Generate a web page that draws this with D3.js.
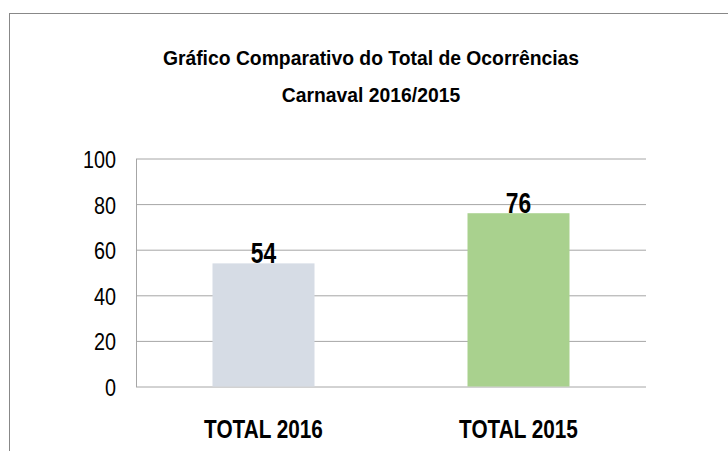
<!DOCTYPE html>
<html>
<head>
<meta charset="utf-8">
<title>Gráfico Comparativo do Total de Ocorrências</title>
<script src="https://cdn.jsdelivr.net/npm/d3@7"></script>
<style>
    body { margin: 0; background: #fff; }
    svg { display: block; font-family: "Liberation Sans", Arial, sans-serif; }
</style>
</head>
<body>
<svg id="chart" width="728" height="451"></svg>
<script>
'use strict';

/*
    bar chart: total de ocorrencias, carnaval 2016 x 2015
*/

var categories = ['TOTAL 2016', 'TOTAL 2015'];
var totals = [54, 76];
var barColors = ['#d6dce5', '#a9d18e'];
var yTicks = [0, 20, 40, 60, 80, 100];
var titleLines = ['Gráfico Comparativo do Total de Ocorrências', 'Carnaval 2016/2015'];

var svg = d3.select('#chart');

var plot = { left: 136, right: 646, top: 158.5, bottom: 386.5 };

// no narrow font installed, so squeeze the glyphs horizontally
var condense = function(sel, factor) {
    sel.each(function() {
        var w = this.getComputedTextLength();
        d3.select(this)
            .attr('textLength', w * factor)
            .attr('lengthAdjust', 'spacingAndGlyphs');
    });
};

// outer frame (right and bottom edges fall outside the picture)
svg.append('rect')
    .attr('x', 9.5)
    .attr('y', 13.5)
    .attr('width', 760)
    .attr('height', 480)
    .attr('fill', 'none')
    .attr('stroke', '#888888')
    .attr('stroke-width', 1);

// title
svg.selectAll('.title')
    .data(titleLines)
    .enter().append('text')
    .attr('class', 'title')
    .attr('x', 371)
    .attr('y', function(d, i) { return 65 + i * 36.5; })
    .attr('text-anchor', 'middle')
    .attr('font-size', '21px')
    .attr('font-weight', 'bold')
    .attr('fill', '#000')
    .text(function(d) { return d; })
    .call(condense, 0.92);

var x = d3.scaleBand()
    .domain(categories)
    .range([plot.left, plot.right])
    .paddingInner(0.6)
    .paddingOuter(0.3);

var y = d3.scaleLinear()
    .domain([0, 100])
    .range([plot.bottom, plot.top]);

/* Y axis + gridlines */
var yAxis = svg.append('g')
    .attr('transform', 'translate(' + plot.left + ',0)')
    .call(d3.axisLeft(y)
        .tickValues(yTicks)
        .tickSize(-(plot.right - plot.left))
        .tickSizeOuter(0)
        .tickPadding(20));

yAxis.selectAll('line').attr('stroke', '#a6a6a6');
yAxis.select('.domain').attr('stroke', '#a6a6a6');
yAxis.selectAll('text')
    .attr('font-size', '23px')
    .attr('font-family', '"Liberation Sans", Arial, sans-serif')
    .attr('fill', '#000')
    .attr('dy', '0.39em')
    .call(condense, 0.86);

/* bars */
svg.selectAll('.bar')
    .data(totals)
    .enter().append('rect')
    .attr('class', 'bar')
    .attr('x', function(d, i) { return x(categories[i]); })
    .attr('y', function(d) { return y(d); })
    .attr('width', x.bandwidth())
    .attr('height', function(d) { return y(0) - y(d); })
    .attr('fill', function(d, i) { return barColors[i]; });

/* value labels */
svg.selectAll('.value')
    .data(totals)
    .enter().append('text')
    .attr('class', 'value')
    .attr('x', function(d, i) { return x(categories[i]) + x.bandwidth() / 2; })
    .attr('y', function(d) { return y(d) - 0.5; })
    .attr('text-anchor', 'middle')
    .attr('font-size', '30px')
    .attr('font-weight', 'bold')
    .attr('fill', '#000')
    .text(function(d) { return d; })
    .call(condense, 0.76);

/* X axis labels */
var xAxis = svg.append('g')
    .attr('transform', 'translate(0,' + plot.bottom + ')')
    .call(d3.axisBottom(x).tickSize(0).tickPadding(34));

xAxis.select('.domain').remove();
xAxis.selectAll('text')
    .attr('font-size', '25px')
    .attr('font-weight', 'bold')
    .attr('font-family', '"Liberation Sans", Arial, sans-serif')
    .attr('fill', '#000')
    .call(condense, 0.83);
</script>
</body>
</html>
